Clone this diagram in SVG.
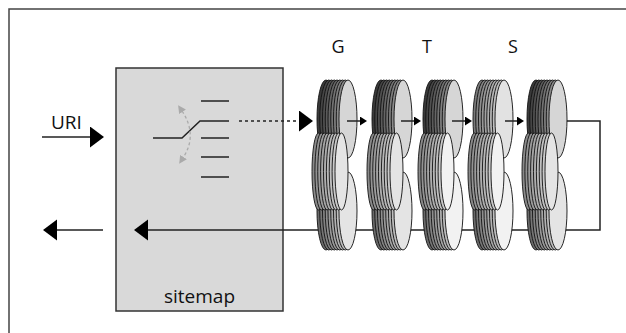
<svg xmlns="http://www.w3.org/2000/svg" xmlns:xlink="http://www.w3.org/1999/xlink" width="626" height="333" viewBox="0 0 626 333">
  <style>
    .lbl { font-family: "Open Sans", "Liberation Sans", sans-serif; fill: #111; }
    .ln { stroke: #222; stroke-width: 1.5; fill: none; }
    .d { stroke: #111; stroke-width: 0.9; }
  </style>
  <defs>
    <marker id="big" markerUnits="userSpaceOnUse" markerWidth="15" markerHeight="22" refX="0" refY="10.5" orient="auto" viewBox="0 0 15 22">
      <path d="M0,0 L14,10.5 L0,21 Z" fill="#000"/>
    </marker>
    <marker id="small" markerUnits="userSpaceOnUse" markerWidth="8" markerHeight="10" refX="0" refY="4.5" orient="auto" viewBox="0 0 8 10">
      <path d="M0,0 L7,4.5 L0,9 Z" fill="#000"/>
    </marker>
    <marker id="grey" markerUnits="userSpaceOnUse" markerWidth="9" markerHeight="9" refX="1" refY="4" orient="auto-start-reverse" viewBox="0 0 9 9">
      <path d="M0,0 L8,4 L0,8 Z" fill="#aaa"/>
    </marker>

    <!-- wide disk stack, dark back disks -->
    <g id="topDark">
      <ellipse class="d" cx="9" cy="0" rx="9" ry="39" fill="#3a3a3a"/>
      <ellipse class="d" cx="11.75" cy="0" rx="9" ry="39" fill="#454545"/>
      <ellipse class="d" cx="14.5" cy="0" rx="9" ry="39" fill="#505050"/>
      <ellipse class="d" cx="17.25" cy="0" rx="9" ry="39" fill="#5b5b5b"/>
      <ellipse class="d" cx="20" cy="0" rx="9" ry="39" fill="#666"/>
      <ellipse class="d" cx="22.75" cy="0" rx="9" ry="39" fill="#727272"/>
      <ellipse class="d" cx="25.5" cy="0" rx="9" ry="39" fill="#7e7e7e"/>
      <ellipse class="d" cx="28.25" cy="0" rx="9" ry="39" fill="#8a8a8a"/>
      <ellipse class="d" cx="31" cy="0" rx="9" ry="39" fill="#d6d6d6"/>
    </g>
    <!-- wide disk stack, medium back disks -->
    <g id="topMed">
      <ellipse class="d" cx="9" cy="0" rx="9" ry="39" fill="#7a7a7a"/>
      <ellipse class="d" cx="11.75" cy="0" rx="9" ry="39" fill="#848484"/>
      <ellipse class="d" cx="14.5" cy="0" rx="9" ry="39" fill="#8e8e8e"/>
      <ellipse class="d" cx="17.25" cy="0" rx="9" ry="39" fill="#989898"/>
      <ellipse class="d" cx="20" cy="0" rx="9" ry="39" fill="#a2a2a2"/>
      <ellipse class="d" cx="22.75" cy="0" rx="9" ry="39" fill="#acacac"/>
      <ellipse class="d" cx="25.5" cy="0" rx="9" ry="39" fill="#b6b6b6"/>
      <ellipse class="d" cx="28.25" cy="0" rx="9" ry="39" fill="#c0c0c0"/>
      <ellipse class="d" cx="31" cy="0" rx="9" ry="39" fill="#e2e2e2"/>
    </g>
    <!-- wide disk stack, lower row -->
    <g id="bottom">
      <ellipse class="d" cx="9" cy="0" rx="9" ry="39" fill="#6a6a6a"/>
      <ellipse class="d" cx="11.75" cy="0" rx="9" ry="39" fill="#767676"/>
      <ellipse class="d" cx="14.5" cy="0" rx="9" ry="39" fill="#828282"/>
      <ellipse class="d" cx="17.25" cy="0" rx="9" ry="39" fill="#8e8e8e"/>
      <ellipse class="d" cx="20" cy="0" rx="9" ry="39" fill="#9a9a9a"/>
      <ellipse class="d" cx="22.75" cy="0" rx="9" ry="39" fill="#a6a6a6"/>
      <ellipse class="d" cx="25.5" cy="0" rx="9" ry="39" fill="#b2b2b2"/>
      <ellipse class="d" cx="28.25" cy="0" rx="9" ry="39" fill="#bebebe"/>
      <ellipse class="d" cx="31" cy="0" rx="9" ry="39" fill="#e4e4e4"/>
    </g>
    <g id="bottomLight">
      <ellipse class="d" cx="9" cy="0" rx="9" ry="39" fill="#6a6a6a"/>
      <ellipse class="d" cx="11.75" cy="0" rx="9" ry="39" fill="#767676"/>
      <ellipse class="d" cx="14.5" cy="0" rx="9" ry="39" fill="#828282"/>
      <ellipse class="d" cx="17.25" cy="0" rx="9" ry="39" fill="#8e8e8e"/>
      <ellipse class="d" cx="20" cy="0" rx="9" ry="39" fill="#9a9a9a"/>
      <ellipse class="d" cx="22.75" cy="0" rx="9" ry="39" fill="#a6a6a6"/>
      <ellipse class="d" cx="25.5" cy="0" rx="9" ry="39" fill="#b2b2b2"/>
      <ellipse class="d" cx="28.25" cy="0" rx="9" ry="39" fill="#bebebe"/>
      <ellipse class="d" cx="31" cy="0" rx="9" ry="39" fill="#f2f2f2"/>
    </g>
    <!-- narrower disk stack, middle row -->
    <g id="middle">
      <ellipse class="d" cx="6.5" cy="0" rx="6.5" ry="38.5" fill="#8a8a8a"/>
      <ellipse class="d" cx="9.4" cy="0" rx="6.5" ry="38.5" fill="#939393"/>
      <ellipse class="d" cx="12.25" cy="0" rx="6.5" ry="38.5" fill="#9c9c9c"/>
      <ellipse class="d" cx="15.1" cy="0" rx="6.5" ry="38.5" fill="#a5a5a5"/>
      <ellipse class="d" cx="18" cy="0" rx="6.5" ry="38.5" fill="#aeaeae"/>
      <ellipse class="d" cx="20.9" cy="0" rx="6.5" ry="38.5" fill="#b7b7b7"/>
      <ellipse class="d" cx="23.75" cy="0" rx="6.5" ry="38.5" fill="#c0c0c0"/>
      <ellipse class="d" cx="26.6" cy="0" rx="6.5" ry="38.5" fill="#c9c9c9"/>
      <ellipse class="d" cx="29.5" cy="0" rx="6.5" ry="38.5" fill="#e4e4e4"/>
    </g>
    <g id="middleLight">
      <ellipse class="d" cx="6.5" cy="0" rx="6.5" ry="38.5" fill="#8a8a8a"/>
      <ellipse class="d" cx="9.4" cy="0" rx="6.5" ry="38.5" fill="#939393"/>
      <ellipse class="d" cx="12.25" cy="0" rx="6.5" ry="38.5" fill="#9c9c9c"/>
      <ellipse class="d" cx="15.1" cy="0" rx="6.5" ry="38.5" fill="#a5a5a5"/>
      <ellipse class="d" cx="18" cy="0" rx="6.5" ry="38.5" fill="#aeaeae"/>
      <ellipse class="d" cx="20.9" cy="0" rx="6.5" ry="38.5" fill="#b7b7b7"/>
      <ellipse class="d" cx="23.75" cy="0" rx="6.5" ry="38.5" fill="#c0c0c0"/>
      <ellipse class="d" cx="26.6" cy="0" rx="6.5" ry="38.5" fill="#c9c9c9"/>
      <ellipse class="d" cx="29.5" cy="0" rx="6.5" ry="38.5" fill="#f2f2f2"/>
    </g>
  </defs>

  <rect width="626" height="333" fill="#fff"/>
  <!-- outer frame, open to the right and bottom -->
  <rect x="9" y="9" width="640" height="340" fill="none" stroke="#444" stroke-width="1.5"/>

  <!-- sitemap block with its switch -->
  <g id="sitemap">
    <rect x="116" y="68" width="167" height="243" fill="#d9d9d9" stroke="#333" stroke-width="1.5"/>
    <text class="lbl" x="199.5" y="303" font-size="19" text-anchor="middle">sitemap</text>
    <path class="ln" d="M153,138 H182 L200,121 H229"/>
    <path class="ln" d="M201,101 H229 M201,138 H229 M201,157 H229 M201,177 H229"/>
    <path d="M182,111 Q198,135 183,158" fill="none" stroke="#aaa" stroke-width="1.3" stroke-dasharray="3,2.5" marker-start="url(#grey)" marker-end="url(#grey)"/>
  </g>

  <!-- return path, running behind the disk stacks -->
  <g id="connectors-back">
    <path class="ln" d="M565,121 H600 V230 H148" marker-end="url(#big)"/>
  </g>

  <g id="stack-1">
    <use href="#topDark" x="317" y="119"/>
    <use href="#bottom" x="317" y="211"/>
    <use href="#middle" x="312" y="171.5"/>
  </g>
  <g id="stack-2">
    <use href="#topDark" x="372" y="119"/>
    <use href="#bottom" x="372" y="211"/>
    <use href="#middle" x="367" y="171.5"/>
  </g>
  <g id="stack-3">
    <use href="#topDark" x="423" y="119"/>
    <use href="#bottomLight" x="423" y="211"/>
    <use href="#middleLight" x="418" y="171.5"/>
  </g>
  <g id="stack-4">
    <use href="#topMed" x="473" y="119"/>
    <use href="#bottomLight" x="473" y="211"/>
    <use href="#middleLight" x="468" y="171.5"/>
  </g>
  <g id="stack-5">
    <use href="#topDark" x="527" y="119"/>
    <use href="#bottom" x="527" y="211"/>
    <use href="#middle" x="522" y="171.5"/>
  </g>

  <g id="labels">
    <text class="lbl" x="51" y="129" font-size="19">URI</text>
    <text class="lbl" x="338" y="53" font-size="18" text-anchor="middle">G</text>
    <text class="lbl" x="427" y="53" font-size="18" text-anchor="middle">T</text>
    <text class="lbl" x="513" y="53" font-size="18" text-anchor="middle">S</text>
  </g>

  <g id="connectors">
    <line class="ln" x1="42" y1="137" x2="90" y2="137" marker-end="url(#big)"/>
    <line class="ln" x1="103" y1="230" x2="57" y2="230" marker-end="url(#big)"/>
    <line class="ln" x1="239" y1="121" x2="299" y2="121" stroke-dasharray="3,3" marker-end="url(#big)"/>
    <line class="ln" x1="347" y1="121" x2="360" y2="121" marker-end="url(#small)"/>
    <line class="ln" x1="401" y1="121" x2="414" y2="121" marker-end="url(#small)"/>
    <line class="ln" x1="452" y1="121" x2="465" y2="121" marker-end="url(#small)"/>
    <line class="ln" x1="505" y1="121" x2="517" y2="121" marker-end="url(#small)"/>
  </g>
</svg>
